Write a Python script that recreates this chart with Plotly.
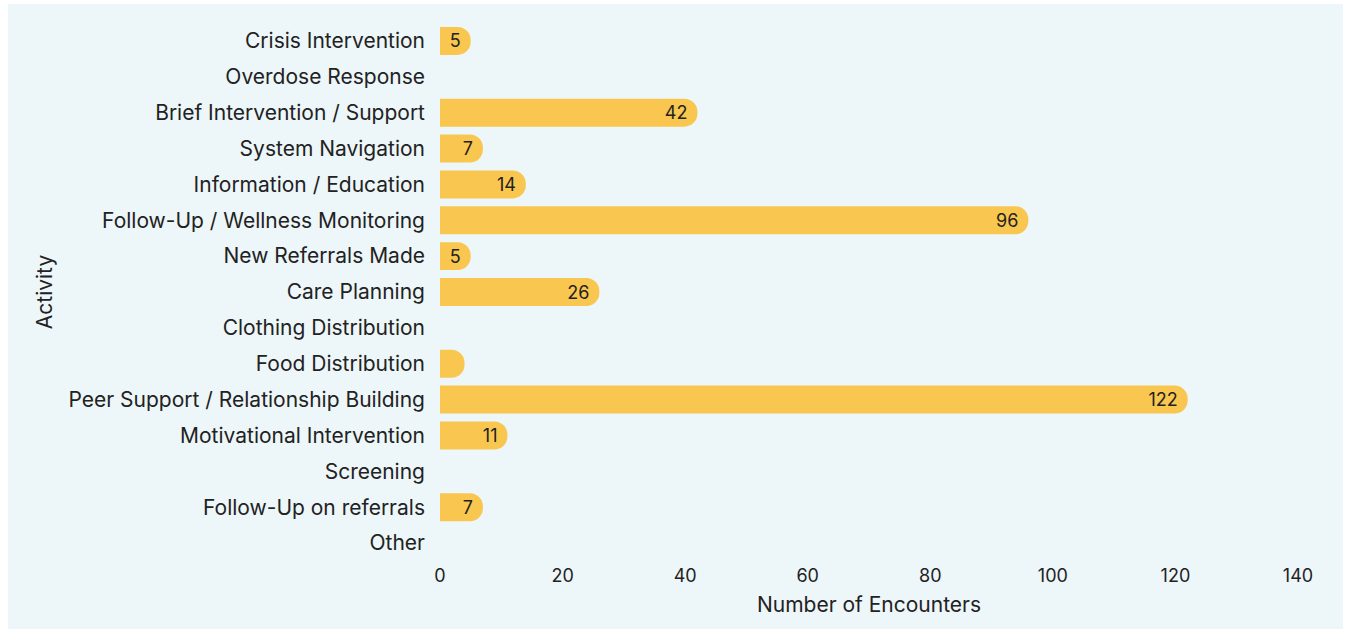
import plotly.graph_objects as go

# Activity categories (top to bottom) and encounter counts
activities = [
    "Crisis Intervention",
    "Overdose Response",
    "Brief Intervention / Support",
    "System Navigation",
    "Information / Education",
    "Follow-Up / Wellness Monitoring",
    "New Referrals Made",
    "Care Planning",
    "Clothing Distribution",
    "Food Distribution",
    "Peer Support / Relationship Building",
    "Motivational Intervention",
    "Screening",
    "Follow-Up on referrals",
    "Other",
]
encounters = [5, 0, 42, 7, 14, 96, 5, 26, 0, 4, 122, 11, 0, 7, 0]
# value labels shown inside bars (blank where the bar is too short or empty)
bar_labels = ["5", "", "42", "7", "14", "96", "5", "26", "", "", "122", "11", "", "7", ""]

x_ticks = [0, 20, 40, 60, 80, 100, 120, 140]

W, H = 1351, 629
ML, MR, MT, MB = 440, 53, 23, 68
PANEL = "#EDF6F9"
BAR = "#F9C74F"
INK = "#222222"
FONT = "Inter, 'Open Sans', sans-serif"

fig = go.Figure(
    go.Bar(
        y=activities,
        x=encounters,
        orientation="h",
        text=bar_labels,
        textposition="inside",
        insidetextanchor="end",
        textfont=dict(color=INK, size=18, family=FONT),
        marker=dict(color=BAR, cornerradius=14, line=dict(width=0)),
        cliponaxis=False,
        hoverinfo="x+y",
    )
)

# light panel behind the whole chart, inset from the page edge
pw = W - ML - MR
ph = H - MT - MB
fig.add_shape(
    type="rect", xref="paper", yref="paper", layer="below",
    x0=(8 - ML) / pw, x1=(W - 8 - ML) / pw,
    y0=(H - MB - H) / ph, y1=(H - MB - 4) / ph,
    fillcolor=PANEL, line=dict(width=0),
)

fig.update_layout(
    width=W, height=H,
    margin=dict(l=ML, r=MR, t=MT, b=MB, pad=0),
    paper_bgcolor="white",
    plot_bgcolor=PANEL,
    bargap=0.22,
    showlegend=False,
    font=dict(family=FONT, size=21, color=INK),
    uniformtext=dict(minsize=10, mode="show"),
)
fig.update_xaxes(
    range=[0, 140], tickvals=x_ticks, showgrid=False, zeroline=False,
    showline=False, ticks="", ticklabelstandoff=2,
    title=dict(text="Number of Encounters", font=dict(size=21), standoff=12),
    tickfont=dict(size=18),
)
fig.update_yaxes(
    categoryorder="array", categoryarray=activities, autorange="reversed",
    showgrid=False, zeroline=False, showline=False, ticks="",
    ticklabelstandoff=14,
    title=dict(text="Activity", font=dict(size=21), standoff=10),
    tickfont=dict(size=21),
)

fig.write_html("out.html")
